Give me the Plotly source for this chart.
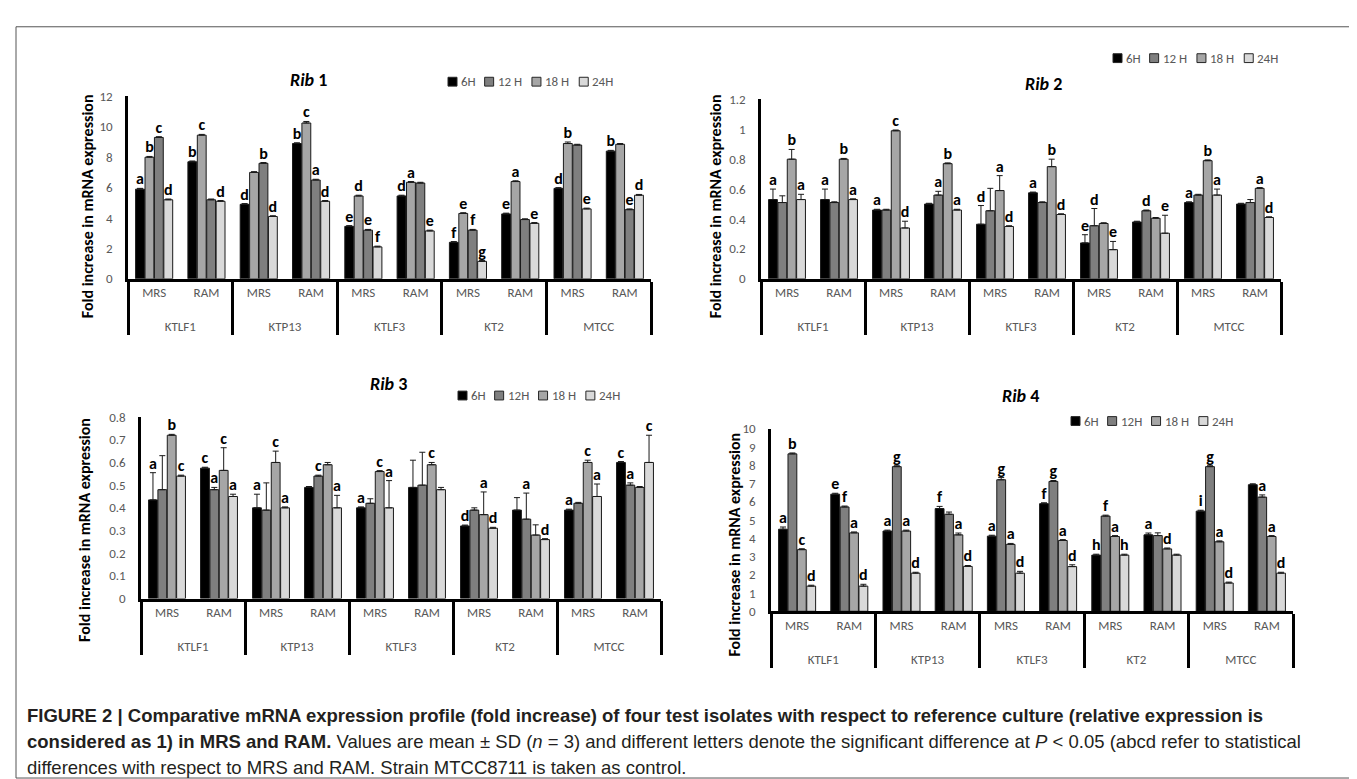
import plotly.graph_objects as go

W, H = 1357, 779


def px(x):
    return x / W


def py(y):
    return 1 - y / H


# ---------------- data ----------------
strains = ["KTLF1", "KTLF1", "KTP13", "KTP13", "KTLF3", "KTLF3", "KT2", "KT2", "MTCC", "MTCC"]
media = ["MRS", "RAM"] * 5

# Rib 1
rib1_names = ["6H", "12 H", "18 H", "24H"]
rib1_6h = [5.9, 7.7, 4.9, 8.9, 3.45, 5.45, 2.4, 4.27, 5.95, 8.4]
rib1_12h = [8.0, 9.45, 7.0, 10.25, 5.45, 6.35, 4.3, 6.4, 8.9, 8.85]
rib1_18h = [9.3, 5.2, 7.6, 6.5, 3.2, 6.3, 3.2, 3.9, 8.8, 4.55]
rib1_24h = [5.2, 5.1, 4.1, 5.1, 2.1, 3.15, 1.15, 3.65, 4.6, 5.5]
rib1_err_6h = [0.05, 0.05, 0.05, 0.05, 0.05, 0.05, 0.05, 0.05, 0.05, 0.05]
rib1_err_12h = [0.05, 0.05, 0.05, 0.1, 0.05, 0.05, 0.05, 0.05, 0.1, 0.05]
rib1_err_18h = [0.05, 0.05, 0.05, 0.05, 0.05, 0.05, 0.05, 0.05, 0.05, 0.05]
rib1_err_24h = [0.05, 0.05, 0.05, 0.05, 0.05, 0.05, 0.05, 0.05, 0.05, 0.05]
rib1_let_6h = ["a", "b", "d", "b", "e", "d", "f", "e", "d", "b"]
rib1_let_12h = ["b", "c", "", "c", "d", "a", "e", "a", "b", ""]
rib1_let_18h = ["c", "", "b", "a", "e", "", "f", "", "", "e"]
rib1_let_24h = ["d", "d", "d", "d", "f", "e", "g", "e", "e", "d"]

# Rib 2
rib2_names = ["6H", "12 H", "18 H", "24H"]
rib2_6h = [0.53, 0.53, 0.46, 0.50, 0.365, 0.575, 0.24, 0.38, 0.51, 0.50]
rib2_12h = [0.51, 0.51, 0.46, 0.56, 0.455, 0.51, 0.355, 0.455, 0.56, 0.51]
rib2_18h = [0.80, 0.80, 0.99, 0.77, 0.59, 0.75, 0.37, 0.405, 0.79, 0.605]
rib2_24h = [0.53, 0.53, 0.34, 0.46, 0.35, 0.43, 0.195, 0.305, 0.56, 0.41]
rib2_err_6h = [0.07, 0.07, 0.005, 0.005, 0.125, 0.005, 0.055, 0.005, 0.005, 0.005]
rib2_err_12h = [0.045, 0.005, 0.005, 0.025, 0.15, 0.005, 0.115, 0.005, 0.005, 0.02]
rib2_err_18h = [0.065, 0.005, 0.005, 0.005, 0.1, 0.05, 0.005, 0.005, 0.005, 0.005]
rib2_err_24h = [0.035, 0.005, 0.045, 0.005, 0.005, 0.005, 0.055, 0.12, 0.04, 0.005]
rib2_let_6h = ["a", "a", "a", "", "d", "a", "e", "", "a", ""]
rib2_let_12h = ["", "", "", "a", "", "", "d", "d", "", ""]
rib2_let_18h = ["b", "b", "c", "b", "a", "b", "", "", "b", "a"]
rib2_let_24h = ["a", "a", "d", "a", "d", "d", "e", "e", "a", "d"]

# Rib 3
rib3_names = ["6H", "12H", "18 H", "24H"]
rib3_6h = [0.435, 0.575, 0.40, 0.49, 0.40, 0.49, 0.32, 0.39, 0.39, 0.60]
rib3_12h = [0.48, 0.48, 0.39, 0.54, 0.42, 0.50, 0.39, 0.35, 0.42, 0.50]
rib3_18h = [0.72, 0.565, 0.60, 0.59, 0.56, 0.59, 0.37, 0.28, 0.60, 0.49]
rib3_24h = [0.54, 0.45, 0.40, 0.40, 0.40, 0.48, 0.31, 0.26, 0.45, 0.60]
rib3_err_6h = [0.12, 0.004, 0.06, 0.004, 0.004, 0.12, 0.004, 0.055, 0.004, 0.004]
rib3_err_12h = [0.15, 0.01, 0.12, 0.004, 0.02, 0.145, 0.01, 0.115, 0.004, 0.01]
rib3_err_18h = [0.004, 0.10, 0.05, 0.01, 0.004, 0.01, 0.10, 0.045, 0.01, 0.004]
rib3_err_24h = [0.004, 0.01, 0.004, 0.055, 0.12, 0.01, 0.004, 0.004, 0.055, 0.12]
rib3_let_6h = ["a", "c", "a", "", "a", "", "d", "", "a", "c"]
rib3_let_12h = ["", "a", "", "c", "", "", "", "a", "", "a"]
rib3_let_18h = ["b", "c", "c", "", "c", "c", "a", "", "c", ""]
rib3_let_24h = ["c", "a", "a", "a", "a", "", "d", "d", "a", "c"]

# Rib 4
rib4_names = ["6H", "12H", "18 H", "24H"]
rib4_6h = [4.5, 6.42, 4.4, 5.63, 4.12, 5.9, 3.08, 4.19, 5.49, 6.94]
rib4_12h = [8.63, 5.72, 7.93, 5.32, 7.21, 7.12, 5.22, 4.15, 7.93, 6.26]
rib4_18h = [3.38, 4.3, 4.4, 4.19, 3.67, 3.88, 4.1, 3.42, 3.81, 4.1]
rib4_24h = [1.38, 1.38, 2.09, 2.46, 2.09, 2.45, 3.08, 3.08, 1.55, 2.09]
rib4_err_6h = [0.12, 0.05, 0.05, 0.12, 0.05, 0.05, 0.05, 0.1, 0.05, 0.05]
rib4_err_12h = [0.05, 0.05, 0.05, 0.12, 0.12, 0.05, 0.05, 0.15, 0.05, 0.12]
rib4_err_18h = [0.05, 0.05, 0.05, 0.1, 0.05, 0.05, 0.05, 0.05, 0.05, 0.05]
rib4_err_24h = [0.05, 0.1, 0.05, 0.05, 0.1, 0.1, 0.05, 0.05, 0.05, 0.05]
rib4_let_6h = ["a", "e", "a", "f", "a", "f", "h", "a", "i", ""]
rib4_let_12h = ["b", "f", "g", "", "g", "g", "f", "", "g", "a"]
rib4_let_18h = ["c", "a", "a", "a", "a", "a", "a", "d", "a", "a"]
rib4_let_24h = ["d", "d", "d", "d", "d", "d", "h", "", "d", "d"]

titles = ["Rib 1", "Rib 2", "Rib 3", "Rib 4"]
ytitle = "Fold increase in mRNA expression"

# ---------------- styles / layout ----------------
C_BLACK, C_DARK, C_MID, C_LIGHT = "#000000", "#7f7f7f", "#a6a6a6", "#d9d9d9"
panel_colors = [
    [C_BLACK, C_MID, C_DARK, C_LIGHT],
    [C_BLACK, C_DARK, C_MID, C_LIGHT],
    [C_BLACK, C_DARK, C_MID, C_LIGHT],
    [C_BLACK, C_DARK, C_MID, C_LIGHT],
]
legend_colors = [
    [C_BLACK, C_DARK, C_MID, C_LIGHT],
    [C_BLACK, C_DARK, C_MID, C_LIGHT],
    [C_BLACK, C_DARK, C_MID, C_LIGHT],
    [C_BLACK, C_DARK, C_MID, C_LIGHT],
]
# pixel boxes of plotting areas: (x0, x1, ytop, yzero)
boxes = [(120, 643, 83, 269), (753, 1273, 86, 269), (133, 653, 410, 595), (763, 1285, 422, 608)]
yranges = [(0, 12, 2), (0, 1.2, 0.2), (0, 0.8, 0.1), (0, 10, 1)]
title_pos = [(300, 66), (1035, 70), (380, 376), (1013, 388)]
legend_pos = [(440, 68), (1105, 44), (450, 388), (1063, 414)]
ytitle_pos = [(79, 195), (707, 195), (77, 525), (727, 540)]

panels = [
    dict(names=rib1_names, vals=[rib1_6h, rib1_12h, rib1_18h, rib1_24h],
         errs=[rib1_err_6h, rib1_err_12h, rib1_err_18h, rib1_err_24h],
         lets=[rib1_let_6h, rib1_let_12h, rib1_let_18h, rib1_let_24h]),
    dict(names=rib2_names, vals=[rib2_6h, rib2_12h, rib2_18h, rib2_24h],
         errs=[rib2_err_6h, rib2_err_12h, rib2_err_18h, rib2_err_24h],
         lets=[rib2_let_6h, rib2_let_12h, rib2_let_18h, rib2_let_24h]),
    dict(names=rib3_names, vals=[rib3_6h, rib3_12h, rib3_18h, rib3_24h],
         errs=[rib3_err_6h, rib3_err_12h, rib3_err_18h, rib3_err_24h],
         lets=[rib3_let_6h, rib3_let_12h, rib3_let_18h, rib3_let_24h]),
    dict(names=rib4_names, vals=[rib4_6h, rib4_12h, rib4_18h, rib4_24h],
         errs=[rib4_err_6h, rib4_err_12h, rib4_err_18h, rib4_err_24h],
         lets=[rib4_let_6h, rib4_let_12h, rib4_let_18h, rib4_let_24h]),
]

FAM = "Carlito, Lato, sans-serif"
TICKFONT = dict(family=FAM, size=13, color="#595959")
LEGSIZE = 13
BARGAP = 0.28

# second level labels get a leading blank line to sit lower, like the reference
strain_labels = ["<br>" + s for s in strains]


def text_w(t, size):
    w = 0.0
    for ch in t:
        if ch == " ":
            w += 0.26
        elif ch.isdigit():
            w += 0.56
        else:
            w += 0.72
    return w * size


fig = go.Figure()
layout = dict(
    width=W, height=H, margin=dict(l=0, r=0, t=0, b=0),
    paper_bgcolor="white", plot_bgcolor="white",
    barmode="group", bargap=BARGAP, bargroupgap=0.06,
    scattermode="group", scattergap=BARGAP,
    showlegend=False,
    annotations=[], shapes=[],
)

for p, panel in enumerate(panels):
    k = "" if p == 0 else str(p + 1)
    xa, ya = "x" + k, "y" + k
    for s in range(4):
        fig.add_trace(go.Bar(
            x=[strain_labels, media], y=panel["vals"][s], name=panel["names"][s],
            xaxis=xa, yaxis=ya, offsetgroup=str(s),
            marker=dict(color=panel_colors[p][s], line=dict(color="#1a1a1a", width=1)),
            error_y=dict(type="data", symmetric=False, array=panel["errs"][s],
                         arrayminus=[0] * 10, color="#1a1a1a", thickness=1, width=3),
        ))
    for s in range(4):
        tops = [v + e for v, e in zip(panel["vals"][s], panel["errs"][s])]
        fig.add_trace(go.Scatter(
            x=[strain_labels, media], y=tops, mode="text", text=panel["lets"][s],
            textposition="top center", offsetgroup=str(s),
            textfont=dict(family=FAM, size=16, color="black", weight="bold"),
            xaxis=xa, yaxis=ya, showlegend=False, cliponaxis=False, hoverinfo="skip",
        ))

    x0, x1, ytop, yzero = boxes[p]
    lo, hi, dt = yranges[p]
    layout["xaxis" + k] = dict(
        domain=[px(x0), px(x1)], anchor=ya, type="multicategory",
        showline=True, linecolor="black", linewidth=2.5,
        showdividers=True, dividercolor="black", dividerwidth=2.5,
        ticks="", tickfont=TICKFONT, ticklabelstandoff=0, showgrid=False,
    )
    layout["yaxis" + k] = dict(
        domain=[py(yzero), py(ytop)], anchor=xa, range=[lo, hi], dtick=dt,
        showline=True, linecolor="black", linewidth=2.5, showgrid=False,
        zeroline=False, ticks="", tickfont=TICKFONT, ticklabelstandoff=10,
    )

    # compact legend (swatch + label)
    lx, ly = legend_pos[p]
    cur = lx
    for s in range(4):
        layout["shapes"].append(dict(
            type="rect", xref="paper", yref="paper",
            x0=px(cur), x1=px(cur + 9), y0=py(ly + 4.5), y1=py(ly - 4.5),
            fillcolor=legend_colors[p][s], line=dict(color="#262626", width=1),
        ))
        layout["annotations"].append(dict(
            text=panel["names"][s], x=px(cur + 11), y=py(ly), xref="paper", yref="paper",
            xanchor="left", yanchor="middle", showarrow=False,
            font=dict(family=FAM, size=LEGSIZE, color="#595959"),
        ))
        cur += 11 + text_w(panel["names"][s], LEGSIZE) + 9

    tx, ty = title_pos[p]
    name, num = titles[p].split(" ")
    layout["annotations"].append(dict(
        text="<b><i>%s</i> %s</b>" % (name, num), x=px(tx), y=py(ty),
        xref="paper", yref="paper", xanchor="center", yanchor="middle", showarrow=False,
        font=dict(family=FAM, size=18, color="black"),
    ))
    yx, yy = ytitle_pos[p]
    layout["annotations"].append(dict(
        text="<b>%s</b>" % ytitle, x=px(yx), y=py(yy), textangle=-90,
        xref="paper", yref="paper", xanchor="center", yanchor="middle", showarrow=False,
        font=dict(family=FAM, size=16, color="black"),
    ))

# caption
CAPFONT = dict(family="Liberation Sans, Arial, sans-serif", size=18.5, color="#231f20")
cap_lines = [
    "<b>FIGURE 2 | Comparative mRNA expression profile (fold increase) of four test isolates with respect to reference culture (relative expression is</b>",
    "<b>considered as 1) in MRS and RAM.</b> Values are mean ± SD (<i>n</i> = 3) and different letters denote the significant difference at <i>P</i> &lt; 0.05 (abcd refer to statistical",
    "differences with respect to MRS and RAM. Strain MTCC8711 is taken as control.",
]
cap_y = [714, 741, 767]
for line, yv in zip(cap_lines, cap_y):
    layout["annotations"].append(dict(
        text=line, x=px(17), y=py(yv), xref="paper", yref="paper",
        xanchor="left", yanchor="middle", showarrow=False, font=CAPFONT,
    ))

layout["shapes"].append(dict(
    type="rect", xref="paper", yref="paper", x0=px(8), x1=px(1354), y0=py(778), y1=py(12),
    line=dict(color="#555555", width=1),
))

fig.update_layout(**layout)
fig.write_html("out.html")
